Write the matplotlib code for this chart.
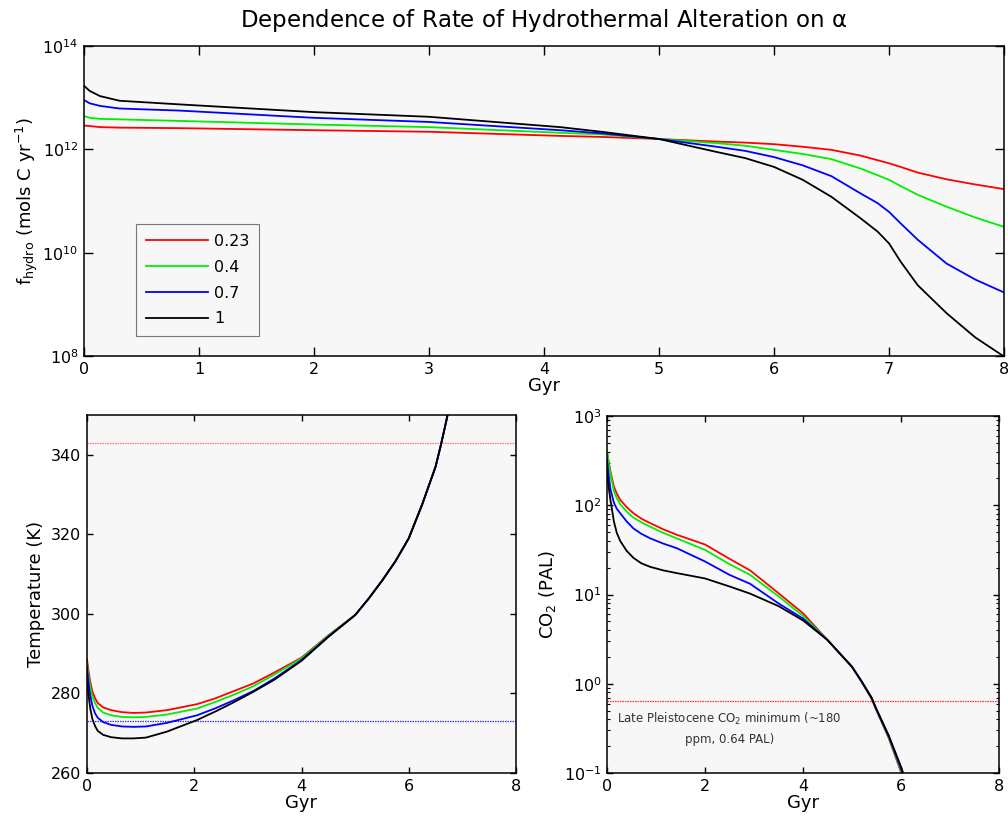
import numpy as np
import matplotlib
matplotlib.use("Agg")
import matplotlib.pyplot as plt
from matplotlib.ticker import LogLocator, NullFormatter, FixedLocator

plt.rcParams['font.family'] = ['DejaVu Sans']
plt.rcParams['mathtext.default'] = 'regular'

alphas = ['0.23', '0.4', '0.7', '1']
colors = ['#ff0000', '#00ee00', '#0000ff', '#000000']

# hydrothermal alteration rate, log10(mols C / yr)
gyr_hydro = [0, 0.05, 0.14, 0.31, 0.83, 2, 3, 4.14, 4.5, 5, 5.5, 5.75, 6, 6.25,
             6.5, 6.75, 6.9, 7, 7.1, 7.25, 7.5, 7.75, 8]
log_f_023 = [12.46, 12.45, 12.43, 12.42, 12.41, 12.37, 12.34, 12.26, 12.24, 12.2,
             12.15, 12.13, 12.10, 12.05, 11.99, 11.88, 11.79, 11.73, 11.66, 11.55,
             11.42, 11.32, 11.23]
log_f_04 = [12.645, 12.61, 12.59, 12.58, 12.55, 12.48, 12.43, 12.32, 12.29, 12.2,
            12.12, 12.07, 11.99, 11.91, 11.81, 11.63, 11.50, 11.41, 11.29, 11.12,
            10.89, 10.68, 10.50]
log_f_07 = [12.955, 12.89, 12.84, 12.79, 12.75, 12.61, 12.53, 12.37, 12.31, 12.2,
            12.05, 11.97, 11.85, 11.69, 11.48, 11.15, 10.96, 10.79, 10.57, 10.25,
            9.79, 9.48, 9.23]
log_f_1 = [13.23, 13.13, 13.03, 12.94, 12.87, 12.72, 12.63, 12.43, 12.34, 12.2,
           11.95, 11.83, 11.66, 11.41, 11.08, 10.67, 10.41, 10.18, 9.83, 9.37,
           8.83, 8.36, 7.99]

# surface temperature (K)
gyr_temp = [0, 0.03, 0.06, 0.1, 0.15, 0.2, 0.3, 0.45, 0.65, 0.87, 1.1, 1.49, 2.05,
            2.4, 2.74, 3.1, 3.5, 4.0, 4.5, 5.0, 5.25, 5.5, 5.75, 6.0, 6.25, 6.5,
            6.6, 6.7, 6.8]
tail_temp = [299.7, 303.8, 308.3, 313.2, 319.0, 327.5, 337.0, 342.5, 348.5, 355.0]
temp_023 = [288.6, 285.5, 283.0, 280.5, 278.8, 277.6, 276.5, 275.8, 275.3, 275.1,
            275.2, 275.8, 277.3, 278.8, 280.6, 282.5, 285.3, 289.0, 294.6] + tail_temp
temp_04 = [287.5, 284.3, 281.8, 279.3, 277.6, 276.4, 275.2, 274.5, 274.1, 274.0,
           274.1, 274.7, 276.2, 277.9, 279.7, 281.8, 284.8, 288.8, 294.5] + tail_temp
temp_07 = [286.5, 282.5, 279.5, 276.9, 275.0, 273.9, 272.8, 272.1, 271.7, 271.6,
           271.7, 272.6, 274.5, 276.3, 278.3, 280.6, 283.8, 288.4, 294.3] + tail_temp
temp_1 = [284.0, 279.5, 276.3, 273.6, 271.8, 270.6, 269.6, 269.0, 268.7, 268.7,
          268.9, 270.4, 273.3, 275.5, 277.8, 280.4, 283.5, 288.2, 294.2] + tail_temp

# atmospheric CO2, log10(PAL)
gyr_co2 = [0, 0.03, 0.07, 0.14, 0.2, 0.27, 0.4, 0.54, 0.7, 0.88, 1.15, 1.42, 2.0,
           2.5, 2.92, 3.5, 4.0, 4.5, 5.0, 5.2, 5.4, 5.5, 5.75, 6.0, 6.1]
log_co2_023 = [2.61, 2.50, 2.38, 2.21, 2.13, 2.06, 1.98, 1.91, 1.85, 1.80, 1.73,
               1.67, 1.56, 1.40, 1.27, 1.015, 0.79, 0.49, 0.19, 0.02, -0.17, -0.30,
               -0.61, -0.99, -1.15]
log_co2_04 = [2.61, 2.49, 2.36, 2.16, 2.08, 2.01, 1.93, 1.86, 1.81, 1.76, 1.69,
              1.63, 1.50, 1.34, 1.22, 0.98, 0.76, 0.49, 0.19, 0.02, -0.165, -0.295,
              -0.60, -0.97, -1.13]
log_co2_07 = [2.52, 2.36, 2.18, 2.03, 1.96, 1.91, 1.82, 1.74, 1.68, 1.63, 1.57,
              1.52, 1.37, 1.22, 1.12, 0.90, 0.73, 0.49, 0.19, 0.02, -0.16, -0.29,
              -0.59, -0.95, -1.11]
log_co2_1 = [2.40, 2.22, 2.06, 1.82, 1.69, 1.60, 1.49, 1.41, 1.35, 1.31, 1.27,
             1.24, 1.18, 1.09, 1.01, 0.87, 0.71, 0.49, 0.19, 0.025, -0.155, -0.285,
             -0.58, -0.93, -1.09]

T_upper = 343.0   # K
T_freeze = 273.0  # K
co2_min = 0.64    # PAL

hydro = [log_f_023, log_f_04, log_f_07, log_f_1]
temps = [temp_023, temp_04, temp_07, temp_1]
co2s = [log_co2_023, log_co2_04, log_co2_07, log_co2_1]

bg = '#f7f7f7'
fs_tick = 11.5
fs_lab = 13
dots = (0, (1.2, 0.8))

fig = plt.figure(figsize=(10.08, 8.18), dpi=100)

# --- top panel: f_hydro vs time
ax1 = fig.add_axes([84 / 1008, 1 - 356 / 818, 920 / 1008, 310 / 818])
ax1.set_facecolor(bg)
for vals, c, a in zip(hydro, colors, alphas):
    ax1.plot(gyr_hydro, 10 ** np.array(vals), color=c, lw=1.3, label=a)
ax1.set_yscale('log')
ax1.set_xlim(0, 8)
ax1.set_ylim(1e8, 1e14)
ax1.yaxis.set_major_locator(FixedLocator([1e8, 1e10, 1e12, 1e14]))
ax1.yaxis.set_minor_locator(FixedLocator([]))
ax1.set_xticks(range(9))
ax1.tick_params(direction='in', top=True, right=True, length=6.5, width=1,
                labelsize=fs_tick, pad=4)
ax1.set_xlabel('Gyr', fontsize=fs_lab, labelpad=0)
ax1.set_ylabel(r'f$_{hydro}$ (mols C yr$^{-1}$)', fontsize=fs_lab, labelpad=2)
leg = ax1.legend(loc='lower left', bbox_to_anchor=(52 / 920, 20 / 310),
                 borderaxespad=0, fontsize=fs_tick, handlelength=3.9,
                 frameon=True, fancybox=False, borderpad=0.6,
                 labelspacing=0.68, handletextpad=0.4)
leg.get_frame().set_edgecolor('#777777')
leg.get_frame().set_facecolor(bg)
leg.get_frame().set_alpha(1)
leg.get_frame().set_linewidth(0.8)
ax1.set_title(r'Dependence of Rate of Hydrothermal Alteration on $\alpha$',
              fontsize=16.5, pad=14)

# --- bottom left: temperature
ax2 = fig.add_axes([87 / 1008, 1 - 773 / 818, 429 / 1008, 358 / 818])
ax2.set_facecolor(bg)
ax2.axhline(T_upper, color='#ff7070', lw=0.9, ls=dots)
ax2.axhline(T_freeze, color='#3030ff', lw=0.9, ls=dots)
for vals, c in zip(temps, colors):
    ax2.plot(gyr_temp, vals, color=c, lw=1.3)
ax2.set_xlim(0, 8)
ax2.set_ylim(260, 350)
ax2.set_xticks([0, 2, 4, 6, 8])
ax2.set_yticks([260, 280, 300, 320, 340])
ax2.tick_params(direction='in', top=True, right=True, length=4, width=1,
                labelsize=fs_tick, pad=4)
ax2.set_xlabel('Gyr', fontsize=fs_lab, labelpad=0)
ax2.set_ylabel('Temperature (K)', fontsize=fs_lab, labelpad=4)

# --- bottom right: CO2
ax3 = fig.add_axes([607 / 1008, 1 - 773 / 818, 392 / 1008, 357 / 818])
ax3.set_facecolor(bg)
ax3.axhline(co2_min, color='#ff3030', lw=0.9, ls=dots)
for vals, c in zip(co2s, colors):
    ax3.plot(gyr_co2, 10 ** np.array(vals), color=c, lw=1.3)
ax3.set_yscale('log')
ax3.set_xlim(0, 8)
ax3.set_ylim(1e-1, 1e3)
ax3.set_xticks([0, 2, 4, 6, 8])
ax3.yaxis.set_major_locator(LogLocator(base=10, numticks=10))
ax3.yaxis.set_minor_locator(LogLocator(base=10, subs=np.arange(2, 10), numticks=10))
ax3.yaxis.set_minor_formatter(NullFormatter())
ax3.tick_params(which='major', direction='in', top=True, right=True, length=4,
                width=1, labelsize=fs_tick, pad=4)
ax3.tick_params(which='minor', direction='in', right=True, length=2, width=0.8)
ax3.set_xlabel('Gyr', fontsize=fs_lab, labelpad=0)
ax3.set_ylabel(r'CO$_2$ (PAL)', fontsize=fs_lab, labelpad=4)
ax3.text(2.5, 10 ** -0.5, 'Late Pleistocene CO$_2$ minimum (~180\nppm, 0.64 PAL)',
         ha='center', va='center', fontsize=8.5, color='#333333', linespacing=1.6)

for ax in (ax1, ax2, ax3):
    for sp in ax.spines.values():
        sp.set_linewidth(1.1)

fig.savefig('out.png', dpi=100, facecolor='white')
